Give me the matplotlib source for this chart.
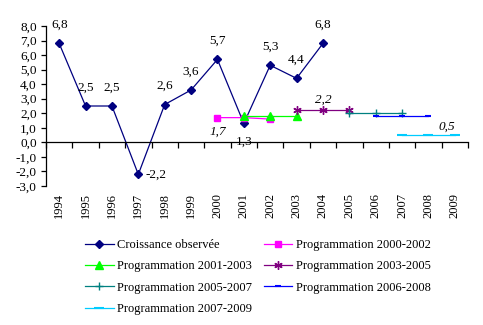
import matplotlib
matplotlib.use("Agg")
import matplotlib.pyplot as plt
from matplotlib import transforms

plt.rcParams['font.family'] = ['Liberation Serif', 'DejaVu Serif']

years = [str(y) for y in range(1994, 2010)]
observed = [6.8, 2.5, 2.5, -2.2, 2.6, 3.6, 5.7, 1.3, 5.3, 4.4, 6.8]
prog = [
    ("Programmation 2000-2002", ["2000", "2001", "2002"], [1.7, 1.7, 1.6], '#FF00FF', 's', 5),
    ("Programmation 2001-2003", ["2001", "2002", "2003"], [1.8, 1.8, 1.8], '#00FF00', '^', 6),
    ("Programmation 2003-2005", ["2003", "2004", "2005"], [2.2, 2.2, 2.2], '#800080', (6, 2, 0), 6),
    ("Programmation 2005-2007", ["2005", "2006", "2007"], [2.0, 2.0, 2.0], '#008080', '+', 6),
    ("Programmation 2006-2008", ["2006", "2007", "2008"], [1.8, 1.8, 1.8], '#0000FF', '_', 5),
    ("Programmation 2007-2009", ["2007", "2008", "2009"], [0.5, 0.5, 0.5], '#00CCFF', '_', 7),
]
yticks = [-3, -2, -1, 0, 1, 2, 3, 4, 5, 6, 7, 8]

fig = plt.figure(figsize=(4.83, 3.25), dpi=100)
ax = fig.add_axes([46/483, 1-186/325, 422/483, 160/325])

idx = {y: i for i, y in enumerate(years)}
h_obs, = ax.plot(range(len(observed)), observed, color='#000080', lw=0.9,
                 marker='D', ms=4.5, label="Croissance observ\u00e9e")
handles = [h_obs]
for name, yrs, vals, col, mk, ms in prog:
    x = [idx[y] for y in yrs]
    mew = 1.5 if mk == '_' else 1.0
    h, = ax.plot(x, vals, color=col, lw=0.9, marker=mk, ms=ms, mew=mew, label=name)
    handles.append(h)

# data labels for observed
offsets = {0: (0, 9, 'center', 'bottom'), 3: (5, 0, 'left', 'center'),
           7: (0, -9, 'center', 'top')}
for i, v in enumerate(observed):
    dx, dy, ha, va = offsets.get(i, (0, 9, 'center', 'bottom'))
    ax.annotate(f"{v:.1f}".replace('.', ','), (i, v), xytext=(dx, dy),
                textcoords='offset points', ha=ha, va=va, fontsize=9.5)

# italic labels for programmations
ax.annotate("1,7", (idx["2000"], prog[0][2][0]), xytext=(0, -6), textcoords='offset points',
            ha='center', va='top', fontsize=9.5, style='italic')
ax.annotate("2,2", (idx["2004"], prog[2][2][1]), xytext=(0, 3), textcoords='offset points',
            ha='center', va='bottom', fontsize=9.5, style='italic')
ax.annotate("0,5", (idx["2009"], prog[5][2][2]), xytext=(-6, 2), textcoords='offset points',
            ha='center', va='bottom', fontsize=9.5, style='italic')

ax.set_xlim(-0.5, len(years) - 0.5)
ax.set_ylim(-3, 8)
ax.set_yticks(yticks)
ax.set_yticklabels([f"{t:.1f}".replace('.', ',') for t in yticks], fontsize=9.5)
ax.spines['top'].set_visible(False)
ax.spines['right'].set_visible(False)
ax.spines['bottom'].set_position(('data', 0))
ax.spines['left'].set_linewidth(0.9)
ax.spines['bottom'].set_linewidth(0.9)
ax.tick_params(axis='y', direction='out', length=3.6, width=0.9, pad=3)
ax.set_xticks([i - 0.5 for i in range(len(years) + 1)])
ax.set_xticklabels([])
ax.tick_params(axis='x', direction='out', length=4, width=0.9)

trans = transforms.blended_transform_factory(ax.transData, ax.transAxes)
for i, y in enumerate(years):
    ax.text(i, -0.045, y, rotation=90, ha='center', va='top', fontsize=9, transform=trans)

order = [0, 2, 4, 6, 1, 3, 5]
fig.legend([handles[i] for i in order], [handles[i].get_label() for i in order],
           ncol=2, loc='center', bbox_to_anchor=(258/483, 1-277/325), frameon=False,
           fontsize=9, handlelength=2.3, columnspacing=0.9, labelspacing=0.75,
           handletextpad=0.3)

fig.savefig("out.png", dpi=100)
